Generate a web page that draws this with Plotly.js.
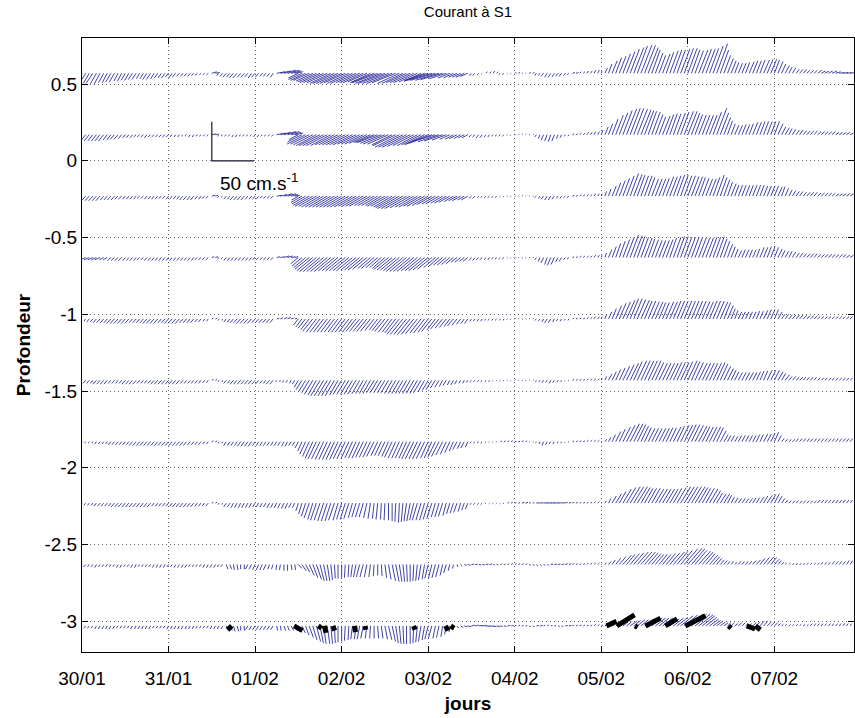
<!DOCTYPE html>
<html>
<head>
<meta charset="utf-8">
<script src="https://cdn.plot.ly/plotly-3.0.1.min.js"></script>
<style>html,body{margin:0;padding:0;background:#fff;}#chart{width:855px;height:718px;}</style>
</head>
<body>
<div id="chart"></div>
<script>
// ---- data ----
const dayLabels = ['30/01','31/01','01/02','02/02','03/02','04/02','05/02','06/02','07/02'];
const dayTicks = [0,1,2,3,4,5,6,7,8];
const yTickVals = [-3,-2.5,-2,-1.5,-1,-0.5,0,0.5];
const yTickLabels = ['-3','-2.5','-2','-1.5','-1','-0.5','0','0.5'];
const depths = [0.57, 0.17, -0.23, -0.63, -1.03, -1.43, -1.83, -2.23, -2.63, -3.03];
const stepHours = 1; // hourly records, starting 30/01 00:00

// velocity components (cm/s), hourly, per depth level (L1 = top)
const v_L1 = [-12,-12,-13,-13,-13,-14,-12,-12,-11,-11,-10,-10,-9,-9,-8,-8,-7,-7,-8,-8,-7,-6,-6,-6,
 -5,-6,-5,-4,-4,-4,-4,-3,-3,-2,-2,-2, 2,1,-3,-4,
 -5,-5,-6,-6,-5,-5,-5,-6,-5,-5,-4,-4,-4,-5, 2,3,4,4,3,2,
 -6,-8,-9,-9,-10,-11,-12,-12,-12,-13,-13,-13,-13,-12,-13,-13,-12,-12,-12,-11,-12,-12,-12,-13,-13,-13,-13,-12,-13,-13,-12,-12,-12,-11,-10,-10,-9,-9,-9,-9,-8,-7,-6,-6,-5,-5,-5,-4,
 -3,-3,-2,-1,2,2,3,2,-2,-2,-1,-1, 1,1,0,0.5,1,1, -3,-3,-4,-5,-5,-5,-4,-4,-3,-2, 1,1,2,2,3,3,4,4,
 3,7,12,16,20,22,25,28,31,33,35,36,36,33,30,26,23,25,27,29,30,30,31,32,32,30,29,30,31,31,32,35,38,30,23,19,16,14,
 13,13,14,15,16,16,17,17,18,18,17,15,12,10,8,7,5,5,5,4,4,4,4,3,3,3,3,2,1,1,1,1];
const u_L1 = [-7,-7,-7,-8,-7,-7,-6,-6,-6,-6,-5,-5,-5,-5,-5,-5,-4,-4,-5,-5,-4,-4,-4,-4,
 -4,-4,-4,-3,-3,-3,-3,-3,-3,-2,-2,-2, 6,5,-3,-3,
 -4,-4,-5,-5,-4,-4,-4,-4,-4,-4,-3,-3,-3,-3, 10,12,14,14,12,10,
 -12,-16,-18,-19,-20,-22,-24,-24,-24,-25,-26,-26,-26,-25,-26,-26,-24,-24,-24,-23,-24,-27,-30,-31,-32,-31,-30,-28,-26,-25,-24,-24,-24,-22,-20,-24,-28,-29,-30,-28,-26,-20,-14,-12,-10,-10,-10,-9,
 -3,-3,-2,-1,2,2,2,2,-2,-2,-1,-1, 2,2,1,1,2,2, -2,-2,-3,-3,-3,-3,-3,-3,-2,-2, 3,3,2,2,2,2,2,2,
 1,3,4,6,7,8,9,10,11,12,12,13,13,12,10,9,8,9,9,10,10,10,11,11,11,10,10,11,11,11,11,12,13,10,8,7,6,5,
 5,5,5,6,6,6,6,7,7,7,6,6,5,5,4,4,4,4,4,4,4,4,5,5,5,5,6,6,6,6,6,6];

const v_L2 = [-7,-7,-8,-8,-8,-8,-8,-7,-7,-6,-6,-5,-4,-4,-4,-3,-3,-3,-4,-3,-3,-3,-3,-3,
 -3,-3,-3,-3,-2,-2,-3,-3,-2,-2,-2,-2, 1,1,-2,-2,
 -2,-2,-3,-3,-2,-2,-2,-2,-3,-3,-2,-2,-2,-2, 2,3,4,4,3,2,
 -6,-9,-12,-12,-13,-14,-14,-14,-14,-14,-13,-13,-13,-13,-13,-13,-12,-12,-12,-11,-10,-10,-10,-11,-12,-12,-13,-14,-16,-16,-16,-15,-14,-14,-13,-13,-12,-11,-9,-9,-8,-7,-6,-6,-5,-5,-4,-4,
 -3,-3,-4,-4,-3,-3,-2,-2,-2,-2,-1,-1, 0,0.5,1,1,0,0, -3,-5,-7,-8,-9,-8,-5,-4,-2,-2, 1,1,2,2,3,3,4,4,
 6,10,14,20,25,28,31,33,34,34,33,32,31,30,29,26,23,24,26,27,27,28,29,30,30,28,26,25,25,25,25,29,34,28,22,18,14,12,
 12,13,13,14,16,16,17,17,17,17,17,14,10,9,8,7,6,6,5,5,5,5,4,4,4,4,4,3,3,3,3,2];
const u_L2 = [-5,-5,-6,-6,-6,-6,-6,-5,-5,-5,-5,-4,-3,-3,-3,-3,-3,-3,-3,-3,-3,-3,-3,-3,
 -3,-3,-2,-2,-2,-2,-2,-2,-2,-2,-2,-2, 5,4,-2,-2,
 -2,-2,-2,-2,-2,-2,-2,-2,-2,-2,-2,-2,-2,-2, 10,12,14,14,12,10,
 -11,-17,-22,-22,-23,-24,-25,-25,-25,-24,-23,-23,-23,-23,-23,-23,-22,-22,-22,-21,-20,-22,-24,-25,-26,-25,-24,-27,-29,-29,-29,-27,-25,-24,-23,-24,-26,-27,-28,-25,-22,-17,-12,-10,-9,-8,-7,-7,
 -3,-3,-3,-3,-2,-2,-2,-2,-2,-2,-1,-1, 1,1,1,1,1,1, -2,-2,-3,-3,-3,-3,-2,-2,-1,-1, 2,2,2,2,2,2,2,2,
 2,4,5,7,9,10,11,12,12,12,12,12,11,10,10,9,8,9,9,9,9,10,10,11,11,10,9,9,9,9,9,10,12,10,8,6,5,5,
 5,5,5,5,6,6,6,6,6,6,6,6,5,5,4,4,4,4,4,4,4,4,4,4,4,4,4,4,4,4,4,4];

const v_L3 = [-5,-5,-6,-6,-6,-6,-5,-5,-5,-5,-4,-4,-4,-4,-4,-4,-3,-3,-4,-4,-4,-4,-3,-3,
 -4,-4,-4,-4,-5,-5,-5,-5,-4,-4,-3,-3, 1,1,-2,-2,
 -4,-4,-5,-5,-5,-5,-4,-4,-4,-4,-3,-3,-3,-3, 1,2,3,3,2,1,
 -5,-8,-10,-12,-13,-13,-14,-14,-14,-14,-14,-14,-14,-14,-14,-14,-13,-13,-13,-13,-12,-12,-12,-12,-13,-13,-14,-15,-16,-16,-16,-15,-14,-14,-13,-13,-12,-11,-10,-10,-9,-9,-8,-7,-6,-6,-5,-5,
 -3,-3,-2,-2,-2,-2,-2,-2,-1,-1,-1,-1, 0,0.5,1,1,0,0, -2,-3,-4,-5,-5,-4,-3,-3,-2,-2, 1,1,2,2,2,2,3,3,
 3,6,9,13,17,20,23,26,29,28,27,26,26,24,22,22,22,23,25,25,26,27,27,26,26,25,25,24,23,22,22,24,27,24,21,18,16,14,
 14,14,14,14,14,14,14,13,13,13,13,12,12,10,8,7,6,6,5,5,5,5,4,4,4,4,4,3,3,3,3,3];
const u_L3 = [-4,-4,-5,-5,-5,-5,-4,-4,-4,-4,-4,-4,-3,-3,-3,-3,-3,-3,-3,-3,-3,-3,-3,-3,
 -3,-3,-3,-3,-4,-4,-4,-4,-3,-3,-3,-3, 4,3,-2,-2,
 -3,-3,-4,-4,-4,-4,-3,-3,-3,-3,-3,-3,-3,-3, 6,8,10,10,8,6,
 -8,-13,-16,-19,-21,-21,-22,-22,-22,-22,-22,-22,-22,-22,-22,-22,-21,-21,-21,-21,-19,-19,-19,-19,-21,-21,-22,-24,-26,-26,-26,-24,-22,-22,-21,-21,-19,-18,-16,-16,-14,-14,-13,-11,-10,-10,-8,-8,
 -3,-3,-2,-2,-2,-2,-2,-2,-1,-1,-1,-1, 1,1,1,1,1,1, -2,-2,-3,-3,-3,-3,-2,-2,-2,-2, 2,2,2,2,2,2,2,2,
 1,2,3,5,6,7,8,9,10,10,9,9,9,8,8,8,8,8,9,9,9,9,9,9,9,9,9,8,8,8,8,8,9,8,7,6,6,5,
 5,5,5,5,5,5,5,5,5,5,5,5,4,4,4,4,4,4,4,4,4,4,4,4,4,4,4,4,4,4,4,4];

const v_L4 = [-3,-3,-3,-3,-3,-3,-3,-3,-4,-4,-4,-4,-4,-4,-4,-4,-3,-3,-4,-4,-4,-4,-4,-4,
 -4,-4,-4,-4,-4,-4,-4,-4,-3,-3,-3,-3, 1,1,-2,-2,
 -4,-4,-4,-4,-4,-4,-4,-4,-3,-3,-3,-3,-3,-3, 1,1,2,2,1,1,
 -8,-11,-13,-15,-17,-18,-18,-18,-18,-18,-17,-17,-17,-17,-17,-17,-16,-16,-16,-15,-14,-14,-13,-13,-14,-15,-16,-16,-17,-18,-18,-18,-18,-17,-17,-17,-16,-15,-13,-12,-10,-10,-9,-8,-6,-6,-5,-5,
 -4,-4,-3,-3,-3,-3,-2,-2,-2,-2,-1,-1, 0,-0.5,-1,-1,0,0, -3,-5,-7,-9,-10,-9,-6,-5,-3,-2, 1,1,2,2,2,2,3,3,
 3,6,10,14,18,21,23,26,29,28,27,26,25,24,23,22,22,22,23,25,26,27,27,26,26,26,26,25,25,25,26,26,27,24,21,17,14,11,
 9,10,10,10,10,11,13,13,14,14,13,11,9,8,8,7,6,6,5,5,5,5,4,4,4,4,4,4,4,4,3,3];
const u_L4 = [-6,-6,-6,-6,-6,-6,-5,-5,-4,-4,-4,-4,-3,-3,-3,-3,-3,-3,-3,-3,-3,-3,-3,-3,
 -3,-3,-3,-3,-3,-3,-3,-3,-3,-3,-3,-3, 3,3,-2,-2,
 -3,-3,-3,-3,-3,-3,-3,-3,-3,-3,-3,-3,-3,-3, 4,5,6,6,5,4,
 -9,-12,-14,-17,-19,-20,-20,-20,-20,-20,-19,-19,-19,-19,-19,-19,-18,-18,-18,-17,-15,-15,-14,-14,-15,-17,-18,-18,-19,-20,-20,-20,-20,-19,-19,-19,-18,-17,-14,-13,-11,-11,-10,-9,-7,-7,-6,-6,
 -3,-3,-3,-3,-2,-2,-2,-2,-2,-2,-1,-1, 1,1,1,1,1,1, -2,-2,-3,-3,-4,-4,-3,-3,-2,-2, 2,2,2,2,2,2,2,2,
 1,2,4,5,6,7,8,9,10,10,9,9,9,8,8,8,8,8,8,8,9,9,9,9,9,9,9,9,9,9,9,9,9,8,7,6,5,4,
 4,4,4,4,4,4,5,5,5,5,5,5,4,4,4,4,4,4,4,4,4,4,4,4,4,4,4,4,4,4,4,4];

const v_L5 = [-3,-3,-4,-4,-5,-5,-5,-5,-6,-6,-6,-6,-6,-6,-5,-5,-5,-5,-6,-6,-6,-6,-5,-5,
 -6,-6,-6,-6,-5,-5,-5,-5,-4,-4,-3,-3, 1,1,-2,-2,
 -4,-4,-5,-5,-6,-6,-6,-6,-5,-5,-5,-5,-5,-5, 1,1,2,2,1,1,
 -8,-10,-12,-14,-16,-17,-17,-17,-17,-17,-17,-17,-17,-17,-17,-17,-16,-16,-16,-16,-16,-15,-14,-15,-16,-17,-17,-18,-20,-20,-20,-20,-20,-19,-18,-18,-17,-16,-14,-13,-12,-11,-10,-9,-8,-7,-6,-6,
 -3,-3,-3,-3,-2,-2,-2,-2,-2,-2,-1,-1, 0.5,0.5,-0.5,-0.5,0.5,0.5, -2,-3,-4,-5,-5,-4,-3,-3,-2,-2, 1,1,1,1,2,2,3,3,
 3,6,9,13,17,20,22,24,26,26,25,24,23,23,22,22,21,21,22,22,23,23,23,23,23,23,23,23,22,22,23,23,23,22,21,17,13,11,
 9,9,9,9,9,10,10,11,12,12,12,9,6,6,5,5,5,5,4,4,4,4,3,3,3,3,3,3,3,3,3,3];
const u_L5 = [-2,-2,-3,-3,-4,-4,-4,-4,-5,-5,-5,-5,-5,-5,-4,-4,-4,-4,-5,-5,-5,-5,-4,-4,
 -5,-5,-5,-5,-4,-4,-4,-4,-3,-3,-2,-2, 2,2,-1,-1,
 -3,-3,-4,-4,-5,-5,-5,-5,-4,-4,-4,-4,-4,-4, 3,3,4,4,3,3,
 -6,-7,-9,-10,-12,-12,-12,-12,-12,-12,-12,-12,-12,-12,-12,-12,-12,-12,-12,-12,-12,-11,-10,-11,-12,-12,-12,-13,-15,-15,-15,-15,-15,-14,-13,-13,-12,-12,-10,-10,-9,-8,-7,-7,-6,-5,-4,-4,
 -2,-2,-2,-2,-2,-2,-2,-2,-1,-1,-1,-1, 1,1,1,1,1,1, -2,-2,-2,-3,-3,-2,-2,-2,-1,-1, 2,2,2,2,2,2,2,2,
 1,2,4,5,7,8,9,10,10,10,10,10,9,9,9,9,8,8,9,9,9,9,9,9,9,9,9,9,9,9,9,9,9,9,8,7,5,4,
 4,4,4,4,4,4,4,5,5,5,5,5,4,4,4,4,4,4,4,4,4,4,3,3,3,3,3,3,3,3,3,3];

const v_L6 = [-4,-4,-4,-4,-5,-5,-5,-5,-4,-4,-4,-4,-5,-5,-5,-5,-4,-4,-4,-4,-5,-5,-5,-5,
 -5,-5,-5,-5,-4,-4,-4,-4,-4,-4,-3,-3, 1,1,-2,-2,
 -4,-4,-5,-5,-5,-5,-5,-5,-5,-5,-4,-4,-5,-5, -2,-2,-3,-3,-4,-5,
 -9,-12,-14,-16,-18,-19,-20,-20,-20,-20,-20,-19,-18,-18,-18,-18,-18,-17,-17,-17,-17,-16,-16,-16,-16,-16,-17,-17,-17,-17,-17,-17,-17,-17,-16,-15,-13,-12,-10,-9,-8,-7,-6,-6,-5,-4,-4,-3,
 -2,-2,-2,-2,-2,-2,-1,-1,-1,-1,-1,-1, 0.5,0.5,-0.5,-0.5,0.5,0.5, -2,-2,-3,-3,-4,-3,-2,-2,-1,-1, 1,1,1,1,2,2,2,2,
 3,5,8,11,14,16,18,20,22,24,25,25,25,25,25,23,22,22,22,22,23,23,23,24,25,24,23,22,22,22,22,22,23,21,18,15,13,11,
 10,10,10,10,10,11,12,12,13,13,13,11,9,7,5,5,4,4,4,4,4,4,3,3,3,3,3,3,3,3,3,3];
const u_L6 = [-3,-3,-3,-3,-4,-4,-4,-4,-3,-3,-3,-3,-4,-4,-4,-4,-3,-3,-3,-3,-4,-4,-4,-4,
 -4,-4,-4,-4,-3,-3,-3,-3,-3,-3,-2,-2, 2,2,-1,-1,
 -3,-3,-4,-4,-4,-4,-4,-4,-4,-4,-3,-3,-4,-4, -1,-1,-2,-2,-2,-3,
 -5,-7,-8,-9,-10,-10,-11,-11,-11,-11,-11,-10,-10,-10,-10,-10,-10,-9,-9,-9,-9,-9,-9,-9,-9,-9,-9,-9,-9,-9,-9,-9,-9,-9,-9,-8,-7,-7,-6,-5,-4,-4,-3,-3,-3,-2,-2,-2,
 -2,-2,-2,-2,-1,-1,-1,-1,-1,-1,-1,-1, 1,1,1,1,1,1, -1,-1,-2,-2,-2,-2,-1,-1,-1,-1, 2,2,2,2,2,2,2,2,
 1,2,4,5,6,7,8,9,10,10,11,11,11,11,11,10,10,10,10,10,10,10,10,10,11,10,10,10,10,10,10,10,10,9,8,7,6,5,
 5,5,5,5,5,5,5,5,6,6,6,6,5,5,4,4,4,4,3,3,3,3,3,3,3,3,3,3,3,3,3,3];

const v_L7 = [-2,-2,-2,-2,-3,-3,-3,-3,-4,-4,-4,-4,-4,-4,-5,-5,-5,-5,-5,-5,-5,-5,-5,-5,
 -5,-5,-5,-5,-5,-5,-4,-4,-4,-4,-3,-3, 1,1,-2,-2,
 -5,-5,-5,-5,-6,-6,-6,-6,-5,-5,-5,-5,-5,-5, -5,-5,-6,-6,-5,-5,
 -8,-12,-16,-19,-21,-22,-22,-23,-23,-23,-23,-23,-22,-22,-21,-21,-21,-21,-20,-20,-20,-19,-18,-18,-18,-19,-20,-21,-21,-21,-21,-22,-22,-22,-22,-22,-21,-21,-20,-19,-17,-16,-14,-12,-10,-9,-8,-7,
 -2,-2,-2,-2,-1,-1,-1,-1,1,1,1,1, 0.5,0.5,1,1,-0.5,-0.5, -2,-3,-5,-4,-3,-3,-2,-2,-1,-1, 1,1,1,1,2,2,2,2,
 1,3,6,9,13,16,19,21,23,23,22,20,18,17,17,17,17,17,18,18,19,20,21,21,22,22,21,20,19,19,19,19,18,14,9,8,8,7,
 8,8,8,8,8,9,9,10,10,11,12,8,4,3,3,3,4,4,4,4,4,4,4,4,4,4,4,4,4,4,4,4];
const u_L7 = [-1,-1,-1,-1,-2,-2,-2,-2,-3,-3,-3,-3,-3,-3,-4,-4,-4,-4,-4,-4,-4,-4,-4,-4,
 -4,-4,-4,-4,-4,-4,-3,-3,-3,-3,-2,-2, 2,2,-1,-1,
 -3,-3,-3,-3,-4,-4,-4,-4,-3,-3,-3,-3,-3,-3, -3,-3,-3,-3,-3,-3,
 -4,-5,-7,-8,-9,-10,-10,-10,-10,-10,-10,-10,-10,-10,-9,-9,-9,-9,-9,-9,-9,-9,-8,-8,-8,-8,-9,-9,-9,-9,-9,-10,-10,-10,-10,-10,-9,-9,-9,-9,-8,-7,-6,-5,-5,-4,-4,-3,
 -2,-2,-2,-2,-1,-1,-1,-1,2,2,2,2, 2,2,2,2,1,1, -1,-1,-2,-2,-2,-2,-1,-1,-1,-1, 2,2,2,2,2,2,2,2,
 1,2,3,4,6,7,9,10,11,11,10,9,8,8,8,8,8,8,8,8,9,9,10,10,10,10,10,10,9,9,9,9,8,7,5,4,4,4,
 4,4,4,4,4,4,4,5,5,5,5,4,3,3,3,3,3,3,3,3,3,3,3,3,3,3,3,3,3,3,3,3];

const v_L8 = [-3,-3,-3,-3,-4,-4,-4,-4,-4,-5,-5,-5,-5,-5,-5,-5,-5,-5,-5,-5,-4,-4,-4,-4,
 -4,-4,-5,-5,-5,-5,-5,-5,-4,-4,-4,-4, 1,1,-2,-2,
 -5,-5,-6,-6,-6,-6,-6,-6,-5,-5,-5,-5,-6,-6, -6,-6,-7,-7,-6,-6,
 -10,-14,-17,-19,-21,-22,-22,-23,-23,-23,-22,-22,-21,-21,-20,-19,-18,-18,-18,-19,-20,-20,-21,-21,-22,-22,-23,-24,-25,-24,-23,-23,-22,-22,-22,-22,-21,-20,-18,-18,-17,-16,-14,-13,-12,-11,-9,-8,
 -2,-2,-2,-2,-1,-1,-1,-1,-1,-1,1,1, 0.5,0.5,1,1,0.5,0.5, 0.5,0.5,0.5,0.5,0.5,0.5,0.5,0.5,1,1, 1,1,1,1,1,1,2,2,
 1,3,6,9,12,15,18,20,21,21,21,20,19,19,19,18,18,18,18,18,19,20,21,21,21,21,21,20,19,19,18,16,13,12,12,10,8,7,
 6,6,6,6,7,7,8,9,10,11,12,9,6,4,3,3,3,3,3,3,3,3,4,4,4,4,4,4,4,4,4,4];
const u_L8 = [-2,-2,-2,-2,-3,-3,-3,-3,-3,-4,-4,-4,-4,-4,-4,-4,-4,-4,-4,-4,-3,-3,-3,-3,
 -3,-3,-4,-4,-4,-4,-4,-4,-3,-3,-3,-3, 2,2,-1,-1,
 -3,-3,-3,-3,-3,-3,-3,-3,-3,-3,-3,-3,-3,-3, -3,-3,-3,-3,-3,-3,
 -3,-4,-5,-6,-6,-7,-7,-7,-7,-7,-7,-6,-6,-6,-6,-5,-5,-5,-5,-4,-3,-2,-2,-1,-1,0,0,-1,-1,-2,-3,-4,-5,-6,-6,-6,-6,-6,-5,-5,-5,-4,-4,-4,-4,-3,-3,-3,
 -2,-2,-2,-2,-1,-1,-1,-1,-1,-1,2,2, 2,2,3,3,2,2, 4,4,5,5,5,5,4,4,3,3, 2,2,2,2,2,2,2,2,
 1,2,3,5,7,8,10,11,12,12,12,11,10,10,10,10,10,10,10,10,10,11,12,12,12,12,12,11,10,10,10,9,7,7,7,5,4,4,
 4,4,4,4,4,4,5,5,6,6,6,5,4,3,3,3,3,3,3,3,3,3,3,3,3,3,3,3,3,3,3,3];

const v_L9 = [-3,-3,-3,-3,-4,-3,-3,-3,-3,-3,-4,-4,-3,-3,-4,-4,-3,-3,-3,-3,-4,-4,-4,-4,
 -3,-3,-4,-4,-4,-4,-3,-3,-3,-3,-4,-4, -4,-4,-3,-3,
 -6,-6,-7,-7,-6,-6,-6,-6,-7,-7,-7,-7,-6,-6, -7,-7,-8,-8,-7,-7,
 -5,-8,-10,-14,-17,-19,-21,-21,-21,-20,-18,-18,-17,-17,-16,-16,-16,-16,-16,-16,-16,-15,-14,-15,-17,-19,-21,-22,-22,-22,-22,-22,-21,-21,-20,-19,-18,-18,-17,-16,-14,-11,-8,-5,-3,-2,-1,-1,
 0.5,0.5,-0.5,-0.5,0.5,0.5,-0.5,-0.5,0.5,0.5,1,1, 1,1,1,1,-1,-1, -2,-2,-1,-1,0.5,0.5,0.5,0.5,1,1, 1,1,1,1,2,2,2,2,
 1,2,4,6,8,10,12,13,14,15,16,16,16,15,14,13,13,13,14,15,16,17,18,20,21,20,18,17,16,14,12,10,8,6,5,4,4,3,
 4,4,4,4,5,6,8,9,10,9,7,5,3,2,2,1,1,1,1,2,2,2,2,3,3,3,4,4,4,4,5,5];
const u_L9 = [-2,-2,-2,-2,-2,-2,-2,-2,-2,-2,-2,-2,-2,-2,-2,-2,-2,-2,-2,-2,-2,-2,-2,-2,
 -2,-2,-2,-2,-2,-2,-2,-2,-2,-2,-2,-2, -2,-2,-2,-2,
 2,2,1,1,0,0,-3,-3,-3,-3,-3,-3,-2,-2, -1,-1,0,0,1,1,
 4,5,5,6,6,6,5,4,3,2,1,0,0,-1,-1,-2,-3,-4,-4,-3,-2,-1,0,1,2,3,4,4,3,2,1,0,-1,-2,-3,-3,-4,-4,-4,-4,-3,-3,-2,-1,1,2,3,3,
 3,3,3,3,3,3,2,2,2,2,2,2, 2,2,2,2,2,2, 2,2,2,2,3,3,3,3,3,3, 2,2,2,2,2,2,2,2,
 1,2,3,4,6,8,10,10,11,12,13,13,13,12,11,10,10,10,11,12,13,13,14,16,17,16,14,14,13,11,10,8,6,5,4,3,3,3,
 3,3,3,3,4,5,6,7,8,7,6,4,3,2,2,2,2,2,2,2,2,2,2,2,2,2,3,3,3,3,3,3];

const v_L10 = [-3,-3,-3,-3,-4,-4,-4,-4,-4,-4,-3,-3,-3,-3,-4,-4,-4,-4,-4,-4,-3,-3,-3,-3,
 -4,-4,-4,-4,-4,-4,-4,-4,-3,-3,-3,-3, -4,-4,-4,-4,
 -6,-6,-7,-7,-6,-6,-5,-5,-5,-5,-5,-5,-5,-5, -6,-6,-6,-6,-6,-6,
 -5,-9,-12,-15,-18,-20,-22,-23,-23,-23,-22,-21,-20,-19,-18,-17,-17,-17,-16,-16,-16,-16,-16,-16,-17,-18,-20,-22,-23,-23,-23,-23,-22,-21,-20,-18,-17,-16,-16,-15,-14,-11,-8,-5,-3,-2,-1,-1,
 1,1,0.5,0.5,-0.5,-0.5,-1,-1,-0.5,-0.5,0.5,0.5, 1,1,0.5,0.5,-1,-1, 0.5,0.5,1,1,0.5,0.5,-0.5,-0.5,0.5,0.5, 1,1,1,1,1,1,2,2,
 1,2,3,3,4,4,5,5,6,7,8,8,9,9,10,10,10,10,9,9,10,11,13,14,15,15,15,14,13,11,9,7,6,5,4,4,4,3,
 4,4,3,3,4,5,6,6,5,5,4,3,2,2,2,2,2,2,2,2,3,3,3,3,3,3,3,3,3,3,3,3];
const u_L10 = [-2,-2,-2,-2,-2,-2,-2,-2,-2,-2,-2,-2,-2,-2,-2,-2,-2,-2,-2,-2,-2,-2,-2,-2,
 -2,-2,-2,-2,-2,-2,-2,-2,-2,-2,-2,-2, -2,-2,-2,-2,
 3,3,2,2,0,0,-3,-3,-3,-3,-3,-3,-3,-3, 1,1,2,2,3,3,
 3,4,4,5,5,5,4,3,3,2,1,0,0,-1,-1,-2,-2,-3,-3,-2,-1,0,1,2,3,4,4,3,2,1,0,0,-1,-2,-3,-3,-4,-4,-3,-3,-2,-2,-1,0,2,3,4,4,
 4,4,5,5,5,5,4,4,3,3,3,3, 2,2,2,2,2,2, 3,3,2,2,2,2,2,2,3,3, 2,2,2,2,2,2,2,2,
 2,3,4,4,5,5,6,6,8,8,9,9,11,11,12,12,12,12,11,11,12,13,15,16,18,18,18,17,15,13,11,9,7,6,5,4,4,4,
 4,4,3,3,4,4,5,5,5,5,4,3,2,2,2,2,2,2,2,2,2,2,2,2,2,2,2,2,2,2,2,2];

// second record at the deepest level (thick black sticks): time (days from 30/01), u, v (cm/s)
const black_t = [1.73, 2.45, 2.73, 2.80, 2.90, 3.15, 3.27, 3.83, 4.20, 4.26, 6.06, 6.18, 6.39, 6.51, 6.74, 6.97, 7.47, 7.68, 7.78];
const black_u = [-5, 10, 4, 2, 2, 1, 1, 2, 3, 4, 12, 21, 3, 18, 14, 24, 3, 10, 6];
const black_v = [-5, -6, -3, -9, -6, -8, -5, -5, -6, -3, 6, 14, -2, 10, 9, 13, -3, -4, -5];

// scale reference
const scaleSpeed = 50; // cm/s
const scaleOrigin = [1.5, 0]; // days, depth units

// ---- drawing ----
const vScale = 0.254 / 50;  // depth units per cm/s
const hScale = 0.486 / 50;  // days per cm/s

const levelData = [[u_L1,v_L1],[u_L2,v_L2],[u_L3,v_L3],[u_L4,v_L4],[u_L5,v_L5],
                   [u_L6,v_L6],[u_L7,v_L7],[u_L8,v_L8],[u_L9,v_L9],[u_L10,v_L10]];

const traces = [];
levelData.forEach(function(pair, i){
  const u = pair[0], v = pair[1];
  const n = Math.min(u.length, v.length);
  const xs = [], ys = [];
  const d = depths[i];
  for (let k = 0; k < n; k++) {
    const t = k * stepHours / 24;
    xs.push(t, t + u[k]*hScale, null);
    ys.push(d, d + v[k]*vScale, null);
  }
  traces.push({type:'scatter', mode:'lines', x:xs, y:ys, hoverinfo:'skip', showlegend:false,
    line:{color:'rgb(45,45,155)', width:0.9}});
});

(function(){
  const xs = [], ys = [];
  const d = depths[depths.length-1];
  for (let k = 0; k < black_t.length; k++) {
    xs.push(black_t[k], black_t[k] + black_u[k]*hScale, null);
    ys.push(d, d + black_v[k]*vScale, null);
  }
  traces.push({type:'scatter', mode:'lines', x:xs, y:ys, hoverinfo:'skip', showlegend:false,
    line:{color:'#000', width:5}});
})();

traces.push({type:'scatter', mode:'lines', hoverinfo:'skip', showlegend:false,
  x:[scaleOrigin[0], scaleOrigin[0], scaleOrigin[0] + scaleSpeed*hScale],
  y:[scaleOrigin[1] + scaleSpeed*vScale, scaleOrigin[1], scaleOrigin[1]],
  line:{color:'#1a1a33', width:1.2}});

const font = 'Liberation Sans, Arial, Helvetica, sans-serif';
const layout = {
  width: 855, height: 718,
  margin: {l:82, r:1, t:38, b:66},
  paper_bgcolor:'#fff', plot_bgcolor:'#fff',
  font:{family:font, color:'#000', size:19},
  title:{text:'Courant à S1', font:{family:font, size:15, color:'#000'}, xref:'paper', x:0.5, xanchor:'center', yref:'container', y:0.983, yanchor:'middle'},
  xaxis:{range:[0, 8.92], tickvals:dayTicks, ticktext:dayLabels, ticks:'inside', ticklen:6, tickcolor:'#000',
    showline:true, linecolor:'#000', linewidth:1, mirror:'ticks', showgrid:true, gridcolor:'rgba(0,0,0,0.6)', griddash:'1px,3px', gridwidth:1,
    zeroline:false, tickfont:{size:19, family:font}, automargin:false, ticklabelstandoff:9,
    title:{text:'jours', font:{size:19, family:font, weight:'bold'}, standoff:8}},
  yaxis:{range:[-3.2, 0.8], tickvals:yTickVals, ticktext:yTickLabels, ticks:'inside', ticklen:6, tickcolor:'#000',
    showline:true, linecolor:'#000', linewidth:1, mirror:'ticks', showgrid:true, gridcolor:'rgba(0,0,0,0.6)', griddash:'1px,3px', gridwidth:1,
    zeroline:false, tickfont:{size:19, family:font}, automargin:false,
    title:{text:'Profondeur', font:{size:19, family:font, weight:'bold'}, standoff:8}},
  annotations:[{x:1.57, y:-0.14, xref:'x', yref:'y', xanchor:'left', yanchor:'middle', showarrow:false,
    text:'50 cm.s<sup>-1</sup>', font:{size:19, family:font, color:'#000'}}]
};

Plotly.newPlot('chart', traces, layout, {displayModeBar:false, staticPlot:true});
</script>
</body>
</html>
